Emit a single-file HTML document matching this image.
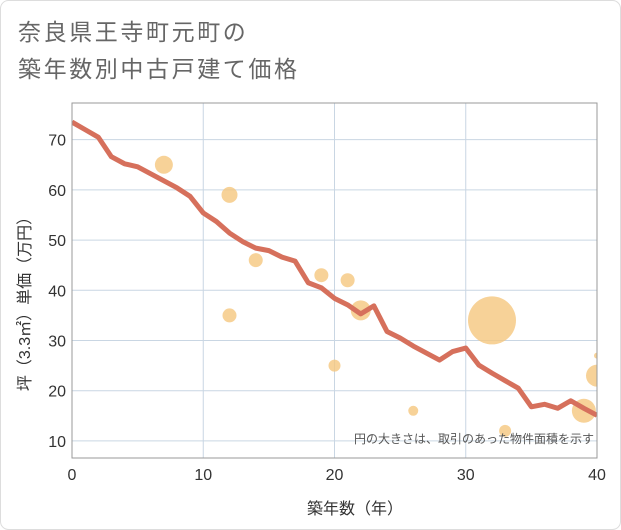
<!DOCTYPE html>
<html><head><meta charset="utf-8"><style>
body{margin:0;background:#fff;}
#wrap{position:relative;width:621px;height:530px;overflow:hidden;font-family:"Liberation Sans","Noto Sans CJK JP",sans-serif;}
</style></head><body>
<div id="wrap">
<svg id="svg" width="621" height="530" xmlns="http://www.w3.org/2000/svg">
<defs><clipPath id="pc"><rect x="72" y="103" width="525" height="355"/></clipPath></defs>
<rect x="0.5" y="0.5" width="620" height="529" rx="8" fill="#fff" stroke="#ddd"/>
<text x="18" y="40" font-size="23" fill="#666" letter-spacing="2.6" font-family="Liberation Sans, Noto Sans CJK JP, sans-serif">奈良県王寺町元町の</text>
<text x="18" y="77" font-size="23" fill="#666" letter-spacing="2.6" font-family="Liberation Sans, Noto Sans CJK JP, sans-serif">築年数別中古戸建て価格</text>
<g id="grid"></g><g id="bubbles" clip-path="url(#pc)"></g><g id="line" clip-path="url(#pc)"></g><g id="axes"></g>
<text x="594" y="443" font-size="12" fill="#555" text-anchor="end" font-family="Liberation Sans, Noto Sans CJK JP, sans-serif">円の大きさは、取引のあった物件面積を示す</text>
<text x="355" y="514" font-size="16" fill="#333" text-anchor="middle" font-family="Liberation Sans, Noto Sans CJK JP, sans-serif">築年数（年）</text>
<text transform="translate(30,300) rotate(-90)" font-size="16" fill="#333" text-anchor="middle" font-family="Liberation Sans, Noto Sans CJK JP, sans-serif">坪（3.3㎡）単価（万円）</text>
</svg>
</div>
<script>
const lineX=[0,1,2,3,4,5,6,7,8,9,10,11,12,13,14,15,16,17,18,19,20,21,22,23,24,25,26,27,28,29,30,31,32,33,34,35,36,37,38,39,40];
const lineY=[73.5,72,70.5,66.6,65.2,64.6,63.2,61.8,60.4,58.7,55.4,53.7,51.4,49.7,48.4,47.9,46.6,45.8,41.5,40.5,38.4,37.1,35.3,36.9,31.8,30.5,28.9,27.5,26.1,27.8,28.5,25.1,23.5,22,20.5,16.8,17.3,16.5,18,16.5,15.1];
const bubX=[7,12,12,14,19,20,21,22,26,32,33,39,40,40];
const bubY=[65,59,35,46,43,25,42,36,16,34,12,16,23,27];
const bubArea=[81,64,49,49,49,36,49,100,25,576,36,144,121,9];
const xTicks=[0,10,20,30,40];
const yTicks=[10,20,30,40,50,60,70];
const L=72,R=597,T=103,B=458,xMin=0,xMax=40,yMin=6.6,yMax=77.3;
const sx=v=>L+(v-xMin)/(xMax-xMin)*(R-L);
const sy=v=>B-(v-yMin)/(yMax-yMin)*(B-T);
const NS="http://www.w3.org/2000/svg";
function mk(tag,attrs,parent){const e=document.createElementNS(NS,tag);for(const k in attrs)e.setAttribute(k,attrs[k]);document.getElementById(parent).appendChild(e);return e;}
xTicks.forEach(t=>{const e=mk('line',{x1:sx(t),x2:sx(t),y1:T,y2:B,stroke:'#c9d6e3','stroke-width':1},'grid');


const tx=mk('text',{x:sx(t),y:B+22,'font-size':16,fill:'#333','text-anchor':'middle'},'axes');tx.textContent=t;

});
yTicks.forEach(t=>{const e=mk('line',{x1:L,x2:R,y1:sy(t),y2:sy(t),stroke:'#c9d6e3','stroke-width':1},'grid');


const tx=mk('text',{x:L-6,y:sy(t)+6,'font-size':16,fill:'#333','text-anchor':'end'},'axes');tx.textContent=t;

});
const fr=mk('rect',{x:L,y:T,width:R-L,height:B-T,fill:'none',stroke:'#999','stroke-width':1},'axes');


bubX.forEach((x,i)=>{const c=mk('circle',{cx:sx(x),cy:sy(bubY[i]),r:Math.sqrt(bubArea[i]),fill:'#f5c77e','fill-opacity':0.8},'bubbles');

});
const p=mk('polyline',{points:lineX.map((x,i)=>sx(x)+','+sy(lineY[i])).join(' '),fill:'none',stroke:'#d6705c','stroke-width':5,'stroke-linejoin':'round'},'line');


</script>
</body></html>
